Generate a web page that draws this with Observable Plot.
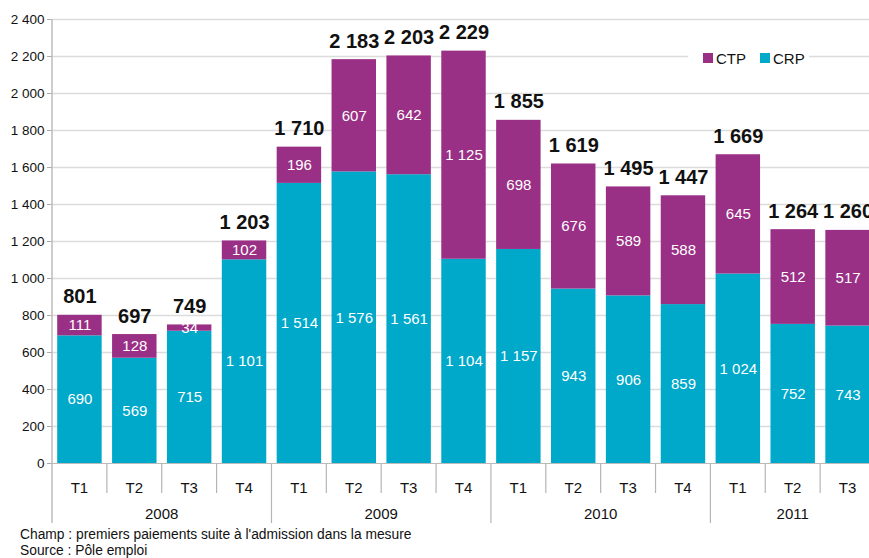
<!DOCTYPE html>
<html>
<head>
<meta charset="utf-8">
<script src="https://cdn.jsdelivr.net/npm/d3@7"></script>
<script src="https://cdn.jsdelivr.net/npm/@observablehq/plot@0.6"></script>
<style>
  html, body { margin: 0; padding: 0; background: #fff; overflow: hidden; }
  body { width: 869px; height: 558px; font-family: 'Liberation Sans Narrow', 'Arial Narrow', 'Liberation Sans', Arial, sans-serif; }
  #wrap { position: relative; width: 869px; height: 525px; overflow: hidden; }
  #chart svg { max-width: none !important; display: block; }
  #legend { position: absolute; left: 688px; top: 44px; width: 121px; height: 28px; background: #fff;
            font-size: 15px; color: #111; display: flex; align-items: center; }
  #legend .sw { display: inline-block; width: 10px; height: 10px; margin-right: 3px; }
  #legend .it { display: inline-flex; align-items: center; margin-left: 15px; }
  #legend .it + .it { margin-left: 14px; }
  #foot { font-size: 13.8px; color: #111; line-height: 15.5px; margin-left: 20px; margin-top: 2px; }
</style>
</head>
<body>
<div id="wrap">
  <div id="chart"></div>
  <div id="legend">
    <span class="it"><span class="sw" style="background:#9a2f86"></span>CTP</span>
    <span class="it"><span class="sw" style="background:#00a8c9"></span>CRP</span>
  </div>
</div>
<div id="foot">Champ : premiers paiements suite à l'admission dans la mesure<br>Source : Pôle emploi</div>
<script>
const years = ["2008","2008","2008","2008","2009","2009","2009","2009","2010","2010","2010","2010","2011","2011","2011"];
const quarters = ["T1","T2","T3","T4","T1","T2","T3","T4","T1","T2","T3","T4","T1","T2","T3"];
const crp = [690, 569, 715, 1101, 1514, 1576, 1561, 1104, 1157, 943, 906, 859, 1024, 752, 743];
const ctp = [111, 128, 34, 102, 196, 607, 642, 1125, 698, 676, 589, 588, 645, 512, 517];
const yTicks = [0, 200, 400, 600, 800, 1000, 1200, 1400, 1600, 1800, 2000, 2200, 2400];
const seriesNames = ["CRP", "CTP"];
const colors = ["#00a8c9", "#9a2f86"];

const keys = years.map((y, i) => y + "-" + quarters[i]);
const totals = crp.map((v, i) => v + ctp[i]);
const rows = [];
keys.forEach((k, i) => {
  rows.push({key: k, series: "CRP", value: crp[i]});
  rows.push({key: k, series: "CTP", value: ctp[i]});
});
const totalRows = keys.map((k, i) => ({key: k, total: totals[i]}));

const fr = d3.formatLocale({decimal: ",", thousands: " ", grouping: [3], currency: ["", ""]});
const fmt = fr.format(",");

const FONT = "'Liberation Sans Narrow', 'Arial Narrow', 'Liberation Sans', Arial, sans-serif";
const PAD = 0.19;

function xAxis(index, scales, values, dimensions) {
  const {x, y} = scales;
  const step = x(keys[1]) - x(keys[0]);
  const bw = step * (1 - PAD);
  const gap = step - bw;
  const y0 = y(0);
  const g = d3.create("svg:g").attr("font-family", FONT).attr("fill", "#111");
  g.append("line").attr("x1", dimensions.marginLeft).attr("x2", dimensions.marginLeft)
    .attr("y1", y(yTicks[yTicks.length - 1])).attr("y2", y0 + 60)
    .attr("stroke", "#bdbdbd").attr("stroke-width", 1.5);
  keys.forEach((k, i) => {
    const left = x(k) - gap / 2;
    const isYearStart = i === 0 || years[i] !== years[i - 1];
    if (i > 0) {
      g.append("line").attr("x1", left).attr("x2", left)
        .attr("y1", y0).attr("y2", y0 + (isYearStart ? 60 : 30))
        .attr("stroke", "#b5b5b5").attr("stroke-width", 1.2);
    }
    g.append("text").attr("x", x(k) + bw / 2).attr("y", y0 + 24)
      .attr("text-anchor", "middle").attr("dominant-baseline", "central")
      .attr("font-size", 15).text(quarters[i]);
  });
  const uniqueYears = [...new Set(years)];
  uniqueYears.forEach(yr => {
    const ks = keys.filter((k, i) => years[i] === yr);
    const a = x(ks[0]) - gap / 2;
    const b = x(ks[ks.length - 1]) + bw + gap / 2;
    g.append("text").attr("x", (a + b) / 2).attr("y", y0 + 50)
      .attr("text-anchor", "middle").attr("dominant-baseline", "central")
      .attr("font-size", 15).text(yr);
  });
  return g.node();
}

const chart = Plot.plot({
  width: 875,
  height: 525,
  marginLeft: 52,
  marginRight: 0,
  marginTop: 19,
  marginBottom: 62,
  style: {fontFamily: FONT, background: "transparent", overflow: "visible", maxWidth: "none"},
  x: {domain: keys, paddingInner: PAD, paddingOuter: PAD / 2, round: false, axis: null},
  y: {domain: [0, 2400], axis: null},
  color: {domain: seriesNames, range: colors},
  marks: [
    Plot.gridY(yTicks.slice(1), {stroke: "#dcdcdc", strokeOpacity: 1, strokeWidth: 1.6}),
    Plot.axisY({ticks: yTicks, tickFormat: fmt, tickSize: 5, tickPadding: 3, stroke: "#aaa",
                fontSize: 13.5, color: "#111", label: null}),
    Plot.barY(rows, {x: "key", y: "value", fill: "series", z: "series", order: seriesNames}),
    Plot.ruleY([0], {stroke: "#bbb", strokeWidth: 1.2}),
    Plot.text(rows, Plot.stackY({x: "key", y: "value", z: "series", order: seriesNames,
      text: d => fmt(d.value), fill: "white", fontSize: 15})),
    Plot.text(totalRows, {x: "key", y: "total", text: d => fmt(d.total), fontSize: 20,
      fontWeight: "bold", fill: "#111", lineAnchor: "bottom", dy: -12}),
    xAxis
  ]
});
document.getElementById("chart").appendChild(chart);
</script>
</body>
</html>
